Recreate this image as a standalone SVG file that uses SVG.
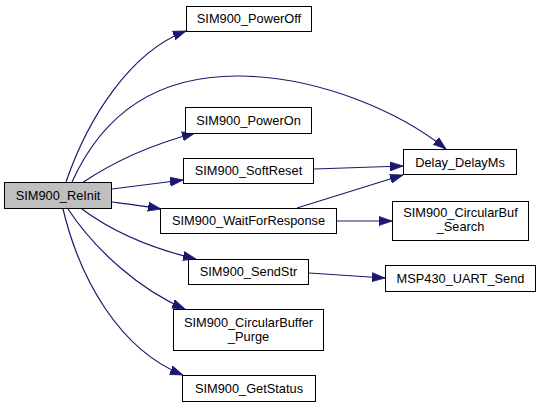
<svg xmlns="http://www.w3.org/2000/svg" width="541" height="408" viewBox="0 0 541 408">
<style>
.n rect{fill:#fff;stroke:#000;stroke-width:1}
.n.root rect{fill:#bfbfbf}
.n text{font-family:"Liberation Sans",Arial,sans-serif;font-size:12.8px;text-anchor:middle;fill:#000}
.e path{fill:none;stroke:#191970;stroke-width:1.2;marker-end:url(#ah)}
</style>
<defs>
<marker id="ah" markerUnits="userSpaceOnUse" markerWidth="14" markerHeight="10" refX="13" refY="4.5" orient="auto" viewBox="0 0 14 9">
<path d="M0,0 L13,4.5 L0,9 z" fill="#191970" stroke="#191970" stroke-width="0.8"/>
</marker>
</defs>
<rect width="541" height="408" fill="#fff"/>
<g id="edges" class="e">
<path d="M66,182 C88,118 130,52 186,31"/>
<path d="M72,182 C100,120 150,75 240,76 C320,77 400,112 446,149"/>
<path d="M82,183 C110,164 150,145 195,133"/>
<path d="M112,189 C135,186 160,183 183,180"/>
<path d="M112,202 C128,204 145,206 161,209"/>
<path d="M314,169 L403,166"/>
<path d="M297,208 L403,175"/>
<path d="M337,221 L392,221"/>
<path d="M82,209 C110,230 150,248 196,259"/>
<path d="M309,273 L385,278"/>
<path d="M68,209 C95,250 140,290 185,309"/>
<path d="M63,209 C80,280 120,350 183,375"/>
</g>
<g id="SIM900_ReInit" class="n root"><rect x="4.5" y="182.5" width="107" height="26"/><text x="58" y="199.5">SIM900_ReInit</text></g>
<g id="SIM900_PowerOff" class="n"><rect x="186.5" y="6.5" width="125" height="25"/><text x="249" y="23">SIM900_PowerOff</text></g>
<g id="SIM900_PowerOn" class="n"><rect x="185.5" y="107.5" width="126" height="26"/><text x="248.5" y="124.5">SIM900_PowerOn</text></g>
<g id="SIM900_SoftReset" class="n"><rect x="183.5" y="158.5" width="130" height="25"/><text x="248.5" y="175">SIM900_SoftReset</text></g>
<g id="SIM900_WaitForResponse" class="n"><rect x="160.5" y="208.5" width="176" height="25"/><text x="248.5" y="225">SIM900_WaitForResponse</text></g>
<g id="Delay_DelayMs" class="n"><rect x="403.5" y="149.5" width="113" height="25"/><text x="460" y="166.5">Delay_DelayMs</text></g>
<g id="SIM900_CircularBuf_Search" class="n"><rect x="392.5" y="201.5" width="136" height="39"/><text x="460.5" y="217">SIM900_CircularBuf</text><text x="460.5" y="231">_Search</text></g>
<g id="MSP430_UART_Send" class="n"><rect x="385.5" y="265.5" width="150" height="26"/><text x="460.5" y="282.5">MSP430_UART_Send</text></g>
<g id="SIM900_SendStr" class="n"><rect x="188.5" y="259.5" width="120" height="25"/><text x="248.5" y="275.5">SIM900_SendStr</text></g>
<g id="SIM900_CircularBuffer_Purge" class="n"><rect x="173.5" y="309.5" width="150" height="41"/><text x="248.5" y="327">SIM900_CircularBuffer</text><text x="248.5" y="341">_Purge</text></g>
<g id="SIM900_GetStatus" class="n"><rect x="182.5" y="375.5" width="133" height="26"/><text x="249" y="392.5">SIM900_GetStatus</text></g>
</svg>
